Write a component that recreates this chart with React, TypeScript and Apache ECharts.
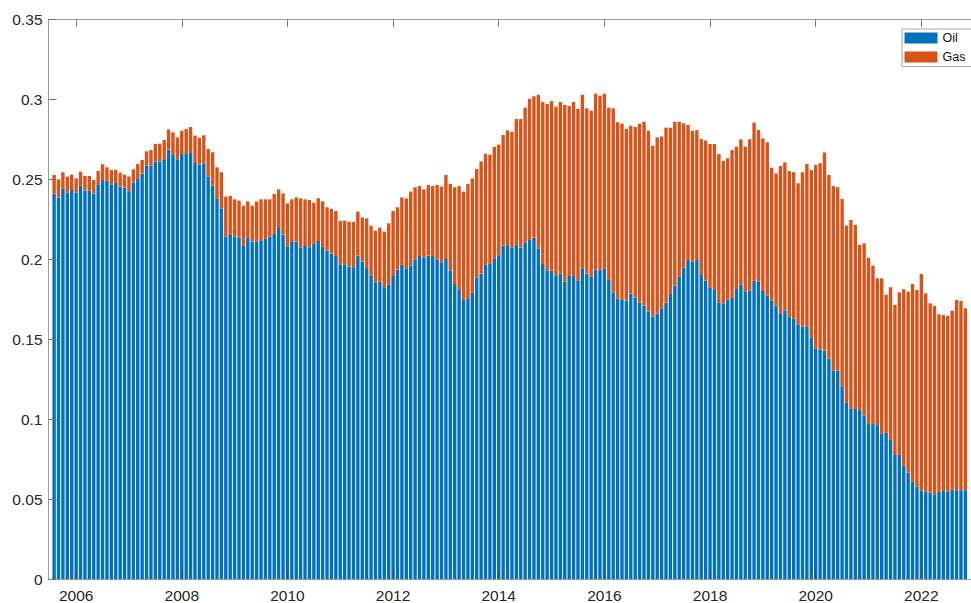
import React, { useEffect, useRef } from "react";
import * as echarts from "echarts";

// Monthly data starting Aug 2005
const startYear = 2005;
const startMonth = 8;

const oil = [
  0.2410, 0.2385, 0.2442, 0.2415, 0.2431,
  0.2415, 0.2458, 0.2427, 0.2429, 0.2410, 0.2467, 0.2498, 0.2488, 0.2467, 0.2475, 0.2452, 0.2446,
  0.2423, 0.2477, 0.2504, 0.2535, 0.2583, 0.2583, 0.2610, 0.2610, 0.2623, 0.2685, 0.2650, 0.2623,
  0.2656, 0.2656, 0.2667, 0.2600, 0.2590, 0.2598, 0.2515, 0.2460, 0.2379, 0.2317, 0.2140, 0.2154,
  0.2140, 0.2134, 0.2081, 0.2136, 0.2110, 0.2110, 0.2117, 0.2125, 0.2140, 0.2156, 0.2194, 0.2152,
  0.2079, 0.2106, 0.2110, 0.2073, 0.2081, 0.2073, 0.2094, 0.2112, 0.2076, 0.2052, 0.2035, 0.2019,
  0.1967, 0.1967, 0.1952, 0.1948, 0.2021, 0.1983, 0.1948, 0.1898, 0.1854, 0.1858, 0.1823, 0.1838,
  0.1894, 0.1935, 0.1963, 0.1942, 0.1958, 0.1998, 0.2019, 0.2008, 0.2021, 0.2019, 0.1998, 0.1979,
  0.2000, 0.1929, 0.1844, 0.1806, 0.1744, 0.1754, 0.1790, 0.1883, 0.1910, 0.1963, 0.1969, 0.2000,
  0.2023, 0.2083, 0.2088, 0.2071, 0.2088, 0.2071, 0.2104, 0.2119, 0.2135, 0.2067, 0.1969, 0.1929,
  0.1927, 0.1898, 0.1910, 0.1858, 0.1894, 0.1894, 0.1863, 0.1942, 0.1910, 0.1888, 0.1935, 0.1925,
  0.1942, 0.1869, 0.1792, 0.1752, 0.1744, 0.1740, 0.1785, 0.1760, 0.1727, 0.1710, 0.1670, 0.1640,
  0.1660, 0.1692, 0.1727, 0.1781, 0.1833, 0.1892, 0.1946, 0.1994, 0.1983, 0.1994, 0.1900, 0.1865,
  0.1819, 0.1806, 0.1730, 0.1720, 0.1745, 0.1756, 0.1813, 0.1840, 0.1798, 0.1802, 0.1865, 0.1858,
  0.1800, 0.1770, 0.1740, 0.1708, 0.1656, 0.1680, 0.1638, 0.1630, 0.1588, 0.1577, 0.1580, 0.1510,
  0.1441, 0.1433, 0.1427, 0.1379, 0.1302, 0.1302, 0.1204, 0.1104, 0.1063, 0.1063, 0.1056, 0.1021,
  0.0973, 0.0969, 0.0963, 0.0906, 0.0913, 0.0869, 0.0775, 0.0775, 0.0710, 0.0665, 0.0608, 0.0577,
  0.0552, 0.0548, 0.0540, 0.0530, 0.0545, 0.0555, 0.0545, 0.0560, 0.0555, 0.0555, 0.0555,
];

const gas = [
  0.0115, 0.0113, 0.0100, 0.0100, 0.0096,
  0.0089, 0.0088, 0.0092, 0.0090, 0.0084, 0.0083, 0.0094, 0.0085, 0.0089, 0.0083, 0.0088, 0.0081,
  0.0092, 0.0083, 0.0090, 0.0084, 0.0090, 0.0098, 0.0109, 0.0111, 0.0121, 0.0125, 0.0142, 0.0137,
  0.0146, 0.0157, 0.0158, 0.0171, 0.0168, 0.0175, 0.0173, 0.0207, 0.0194, 0.0225, 0.0250, 0.0240,
  0.0233, 0.0231, 0.0252, 0.0224, 0.0223, 0.0250, 0.0256, 0.0248, 0.0233, 0.0250, 0.0241, 0.0258,
  0.0269, 0.0267, 0.0275, 0.0306, 0.0292, 0.0296, 0.0258, 0.0268, 0.0284, 0.0271, 0.0278, 0.0281,
  0.0271, 0.0273, 0.0281, 0.0285, 0.0275, 0.0277, 0.0306, 0.0310, 0.0323, 0.0338, 0.0348, 0.0385,
  0.0406, 0.0388, 0.0422, 0.0437, 0.0463, 0.0450, 0.0437, 0.0427, 0.0442, 0.0437, 0.0465, 0.0473,
  0.0525, 0.0540, 0.0604, 0.0650, 0.0677, 0.0715, 0.0714, 0.0680, 0.0700, 0.0695, 0.0683, 0.0700,
  0.0692, 0.0692, 0.0716, 0.0725, 0.0787, 0.0804, 0.0842, 0.0883, 0.0882, 0.0960, 0.1012, 0.1040,
  0.1061, 0.1054, 0.1071, 0.1105, 0.1062, 0.1087, 0.1075, 0.1085, 0.1032, 0.1039, 0.1098, 0.1096,
  0.1091, 0.1077, 0.1150, 0.1102, 0.1102, 0.1073, 0.1048, 0.1065, 0.1118, 0.1148, 0.1132, 0.1068,
  0.1100, 0.1073, 0.1094, 0.1040, 0.1025, 0.0966, 0.0902, 0.0844, 0.0817, 0.0812, 0.0850, 0.0875,
  0.0900, 0.0913, 0.0926, 0.0893, 0.0884, 0.0925, 0.0889, 0.0908, 0.0904, 0.0946, 0.0987, 0.0948,
  0.0954, 0.0959, 0.0831, 0.0827, 0.0925, 0.0924, 0.0912, 0.0912, 0.0885, 0.0965, 0.1014, 0.1046,
  0.1147, 0.1165, 0.1238, 0.1146, 0.1154, 0.1146, 0.1171, 0.1106, 0.1181, 0.1150, 0.1032, 0.1077,
  0.1035, 0.0989, 0.0916, 0.0973, 0.0864, 0.0955, 0.0938, 0.1017, 0.1101, 0.1131, 0.1236, 0.1229,
  0.1354, 0.1237, 0.1183, 0.1176, 0.1109, 0.1095, 0.1099, 0.1117, 0.1189, 0.1183, 0.1137,
];

const yearTicks = [2006, 2008, 2010, 2012, 2014, 2016, 2018, 2020, 2022];
const seriesNames = ["Oil", "Gas"];
const colors = ["#0072BD", "#D95319"];

const xMin = 2005.477;
const xMax = 2022.94;

const monthPos = (i: number) => startYear + (startMonth - 1 + i) / 12;

const FONT = "'Liberation Sans', Arial, Helvetica, sans-serif";
const AXIS_COLOR = "#9a9a9a";
const TEXT_COLOR = "#262626";

export default function App() {
  const ref = useRef<HTMLDivElement>(null);

  useEffect(() => {
    if (!ref.current) return;
    const chart = echarts.init(ref.current, undefined, { renderer: "svg" });

    // data rows are [value, time position] so the value column is the stacked one
    const rows = (arr: number[]) => arr.map((v, i) => [v, monthPos(i)]);

    const option: any = {
      animation: false,
      backgroundColor: "#ffffff",
      grid: { left: 48.5, right: -6.4, top: 19, bottom: 24, containLabel: false },
      legend: {
        orient: "vertical",
        left: 902,
        top: 29,
        z: 10,
        icon: "rect",
        itemWidth: 33,
        itemHeight: 11,
        itemGap: 6,
        padding: [2.5, 7, 3, 2.5],
        borderColor: "#a8a8a8",
        borderWidth: 1,
        borderRadius: 0,
        backgroundColor: "#ffffff",
        data: seriesNames,
        textStyle: { fontFamily: FONT, fontSize: 12.5, color: "#111", lineHeight: 12, padding: 0 },
      },
      xAxis: [
        {
          type: "value",
          min: xMin,
          max: xMax,
          position: "bottom",
          z: 5,
          splitLine: { show: false },
          axisLine: { show: true, lineStyle: { color: AXIS_COLOR, width: 1 } },
          axisTick: {
            show: true,
            inside: true,
            length: 8,
            customValues: yearTicks,
            lineStyle: { color: "#4a4a4a" },
          },
          axisLabel: {
            show: true,
            customValues: yearTicks,
            margin: 8,
            fontFamily: FONT,
            fontSize: 15.5,
            color: TEXT_COLOR,
            formatter: (v: number) => String(Math.round(v)),
          },
        },
        {
          type: "value",
          min: xMin,
          max: xMax,
          position: "top",
          z: 5,
          splitLine: { show: false },
          axisLine: { show: true, lineStyle: { color: AXIS_COLOR, width: 1 } },
          axisTick: {
            show: true,
            inside: true,
            length: 8,
            customValues: yearTicks,
            lineStyle: { color: "#808080" },
          },
          axisLabel: { show: false },
        },
      ],
      yAxis: {
        type: "value",
        min: 0,
        max: 0.35,
        interval: 0.05,
        z: 5,
        splitLine: { show: false },
        axisLine: { show: true, lineStyle: { color: AXIS_COLOR, width: 1 } },
        axisTick: { show: true, inside: true, length: 8, lineStyle: { color: "#707070" } },
        axisLabel: {
          margin: 6,
          fontFamily: FONT,
          fontSize: 15.5,
          color: TEXT_COLOR,
          formatter: (v: number) => String(+v.toFixed(2)),
        },
      },
      series: [
        {
          name: seriesNames[0],
          type: "bar",
          stack: "total",
          barWidth: 3.4,
          xAxisIndex: 0,
          encode: { x: 1, y: 0 },
          itemStyle: { color: colors[0] },
          data: rows(oil),
        },
        {
          name: seriesNames[1],
          type: "bar",
          stack: "total",
          barWidth: 3.4,
          xAxisIndex: 0,
          encode: { x: 1, y: 0 },
          itemStyle: { color: colors[1] },
          data: rows(gas),
        },
      ],
    };

    chart.setOption(option);
    return () => chart.dispose();
  }, []);

  return (
    <div
      ref={ref}
      style={{ position: "fixed", left: 0, top: 0, width: 971, height: 603, background: "#fff" }}
    />
  );
}
